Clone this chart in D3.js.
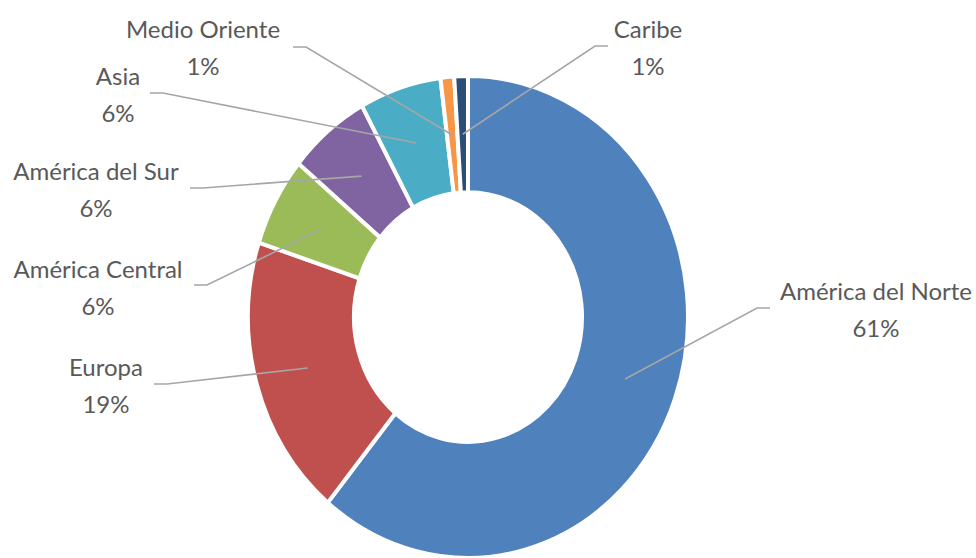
<!DOCTYPE html>
<html>
<head>
<meta charset="utf-8">
<script src="https://cdn.jsdelivr.net/npm/d3@7"></script>
<style>
  body { margin: 0; background: #fff; }
  svg { display: block; }
  .lbl { font-family: Lato, "Open Sans", sans-serif; font-size: 24px; fill: #595959; }
</style>
</head>
<body>
<div id="chart"></div>
<script>
// Regions and share of the total (%)
const regions = ["América del Norte", "Europa", "América Central", "América del Sur", "Asia", "Medio Oriente", "Caribe"];
const shares = [61, 19, 6, 6, 6, 1, 1];
const colors = ["#4F81BD", "#C0504D", "#9BBB59", "#8064A2", "#4BACC6", "#F79646", "#2C4D75"];

// Label placement: text centre x, first baseline y, leader start x,y and stub direction
const labelLayout = [
    { x: 876, y: 300, lx: 770, ly: 308, dir: -1 },
    { x: 106, y: 376, lx: 154, ly: 384, dir: 1 },
    { x: 98,  y: 278, lx: 194, ly: 285, dir: 1 },
    { x: 96,  y: 180, lx: 190, ly: 188, dir: 1 },
    { x: 118, y: 85,  lx: 150, ly: 93,  dir: 1 },
    { x: 203, y: 38,  lx: 293, ly: 47,  dir: 1 },
    { x: 648, y: 38,  lx: 608, ly: 46,  dir: -1 }
];

const width = 976, height = 558;
const cx = 468, cy = 317;
const outerR = 220, innerR = 114;
const ky = 1.095; // the chart is slightly taller than wide

const svg = d3.select("#chart").append("svg")
    .attr("width", width)
    .attr("height", height);

const data = regions.map((r, i) => ({ name: r, value: shares[i], color: colors[i], pos: labelLayout[i] }));

const pie = d3.pie().sort(null).value(d => d.value);
const arc = d3.arc().innerRadius(innerR).outerRadius(outerR);
const arcs = pie(data);

// Slices
svg.append("g")
    .attr("transform", "translate(" + cx + "," + cy + ") scale(1," + ky + ")")
    .selectAll("path")
    .data(arcs)
    .join("path")
    .attr("d", arc)
    .attr("fill", d => d.data.color)
    .attr("stroke", "#fff")
    .attr("stroke-width", 4)
    .attr("vector-effect", "non-scaling-stroke");

// Leader lines
svg.append("g")
    .selectAll("polyline")
    .data(arcs)
    .join("polyline")
    .attr("fill", "none")
    .attr("stroke", "#A6A6A6")
    .attr("stroke-width", 1.6)
    .attr("points", d => {
        const c = arc.centroid(d);
        const p = d.data.pos;
        const end = [cx + c[0], cy + c[1] * ky];
        return [[p.lx, p.ly], [p.lx + p.dir * 13, p.ly], end].map(q => q.join(",")).join(" ");
    });

// Labels
const lbl = svg.append("g")
    .selectAll("text")
    .data(arcs)
    .join("text")
    .attr("class", "lbl")
    .attr("text-anchor", "middle");

lbl.append("tspan")
    .attr("x", d => d.data.pos.x)
    .attr("y", d => d.data.pos.y)
    .text(d => d.data.name);

lbl.append("tspan")
    .attr("x", d => d.data.pos.x)
    .attr("y", d => d.data.pos.y + 37)
    .text(d => d.data.value + "%");
</script>
</body>
</html>
